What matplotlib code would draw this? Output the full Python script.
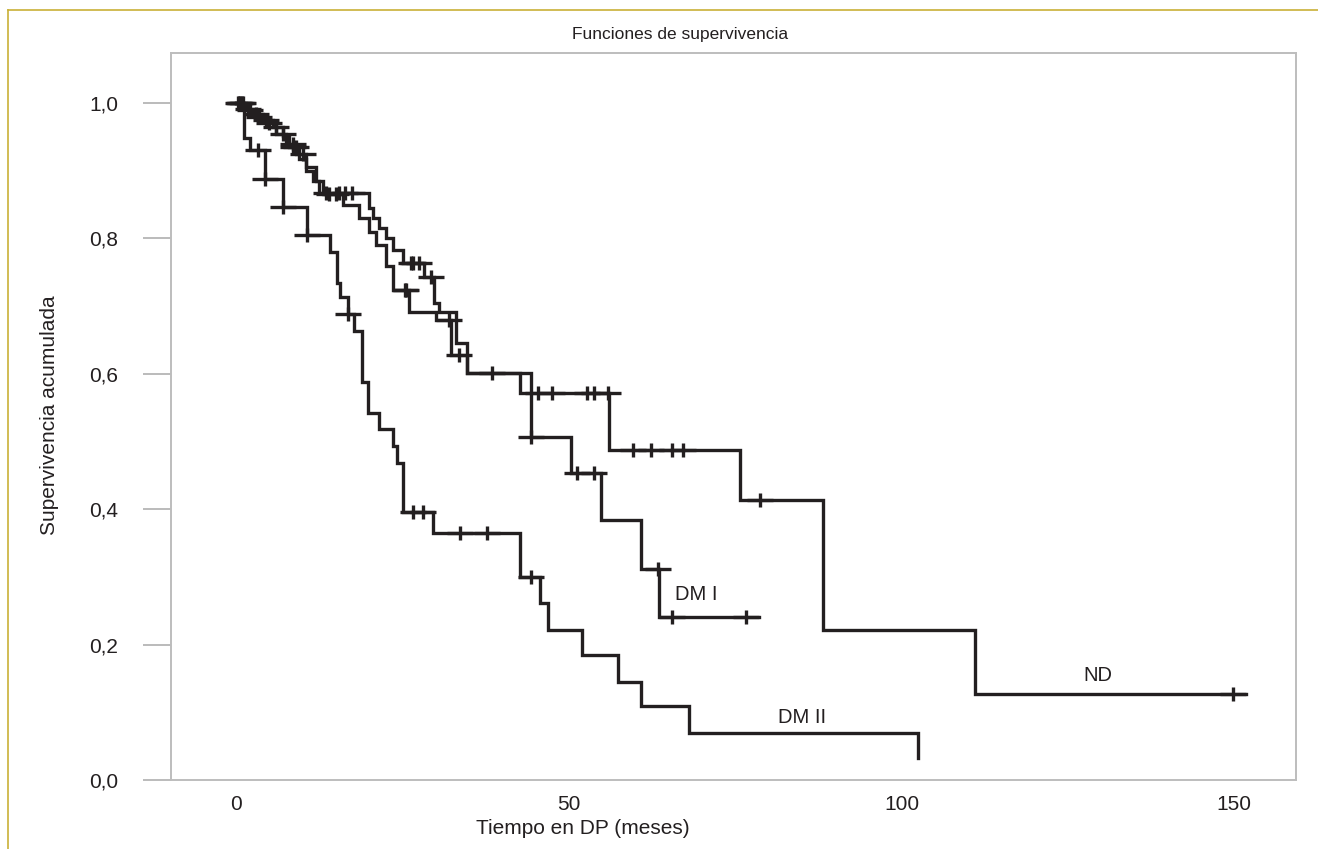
import numpy as np
import matplotlib
matplotlib.use("Agg")
import matplotlib.pyplot as plt
from matplotlib.lines import Line2D
from matplotlib.ticker import FuncFormatter

# Kaplan-Meier step data: event times (months) and survival after each event
nd_times = [1.0, 2.5, 4.0, 5.5, 7.0, 8.0, 9.5, 10.5, 11.5, 12.5, 20.0, 20.5, 21.5,
            22.5, 23.5, 25.0, 28.3, 29.8, 30.5, 33.0, 34.7, 42.7, 56.0, 75.7, 88.2, 111.0]
nd_surv = [0.992, 0.984, 0.975, 0.965, 0.952, 0.935, 0.918, 0.900, 0.885, 0.867, 0.845,
           0.830, 0.815, 0.800, 0.783, 0.764, 0.743, 0.704, 0.691, 0.645, 0.602, 0.571,
           0.487, 0.413, 0.222, 0.127]
nd_censored = [0.3, 0.8, 1.8, 3.0, 4.5, 6.0, 8.5, 9.0, 13.5, 15.4, 16.4, 17.4, 26.2, 26.6,
               27.5, 29.3, 38.5, 45.4, 47.5, 52.8, 53.8, 55.9, 59.7, 62.4, 65.5, 67.2,
               78.8, 149.9]
nd_end = 151.8

dm1_times = [1.5, 3.0, 4.5, 6.0, 7.5, 9.0, 10.5, 12.0, 13.0, 16.0, 18.5, 20.0, 21.0,
             22.5, 23.5, 26.0, 30.0, 32.3, 34.7, 44.3, 50.3, 54.8, 60.9, 63.6]
dm1_surv = [0.990, 0.980, 0.970, 0.955, 0.940, 0.925, 0.905, 0.885, 0.865, 0.850, 0.830,
            0.810, 0.790, 0.760, 0.724, 0.691, 0.679, 0.628, 0.602, 0.506, 0.453, 0.384,
            0.311, 0.241]
dm1_censored = [0.5, 1.0, 2.0, 3.5, 5.0, 7.0, 8.5, 10.0, 14.0, 15.0, 25.3, 25.5, 32.0,
                33.5, 44.3, 51.3, 53.8, 63.4, 65.5, 76.7]
dm1_end = 78.6

dm2_times = [1.1, 2.1, 4.3, 7.1, 10.7, 14.1, 15.2, 15.6, 16.8, 17.7, 18.9, 19.8, 21.5,
             23.6, 24.2, 25.1, 29.6, 42.7, 45.7, 46.9, 52.0, 57.4, 60.9, 68.1, 102.5]
dm2_surv = [0.948, 0.930, 0.888, 0.846, 0.805, 0.780, 0.734, 0.713, 0.688, 0.663, 0.588,
            0.542, 0.518, 0.493, 0.468, 0.396, 0.365, 0.300, 0.261, 0.221, 0.185, 0.145,
            0.109, 0.069, 0.032]
dm2_censored = [0.4, 3.3, 4.3, 7.1, 10.7, 16.8, 26.6, 28.1, 33.7, 37.7, 44.3]
dm2_end = 102.5

curve_labels = ["ND", "DM I", "DM II"]
label_pos = [(129.5, 0.155), (69.2, 0.274), (85.0, 0.092)]

y_ticks = [0.0, 0.2, 0.4, 0.6, 0.8, 1.0]
x_ticks = [0, 50, 100, 150]

plt.rcParams["font.family"] = ["Liberation Sans", "DejaVu Sans"]

fig = plt.figure(figsize=(13.18, 8.49), dpi=100)
ax = fig.add_axes([171 / 1318, 1 - 780 / 849, (1296 - 171) / 1318, (780 - 53) / 849])

ink = "#231f20"
lw = 2.4


def draw_curve(times, surv, censored, end):
    t = np.r_[0.0, times, end]
    s = np.r_[1.0, surv, surv[-1]]
    ax.step(t, s, where="post", color=ink, lw=lw, solid_joinstyle="miter", zorder=3)
    idx = np.searchsorted(np.asarray(times), np.asarray(censored), side="right")
    s_c = np.r_[1.0, surv][idx]
    ax.plot(censored, s_c, ls="none", marker="_", ms=19, mew=lw, color=ink, zorder=4)
    ax.plot(censored, s_c, ls="none", marker="|", ms=10, mew=lw, color=ink, zorder=4)


draw_curve(nd_times, nd_surv, nd_censored, nd_end)
draw_curve(dm1_times, dm1_surv, dm1_censored, dm1_end)
draw_curve(dm2_times, dm2_surv, dm2_censored, dm2_end)

for name, (lx, ly) in zip(curve_labels, label_pos):
    ax.text(lx, ly, name, fontsize=14.5, color=ink, ha="center", va="center")

ax.set_xlim(-9.8, 159.3)
ax.set_ylim(0.0, 1.074)
ax.set_xticks(x_ticks)
ax.set_yticks(y_ticks)
ax.yaxis.set_major_formatter(FuncFormatter(lambda v, p: f"{v:.1f}".replace(".", ",")))
ax.tick_params(axis="y", length=20, width=1.3, color="#b5b5b5", pad=18,
               labelsize=15, labelcolor=ink)
ax.tick_params(axis="x", length=0, pad=11, labelsize=15, labelcolor=ink)
for sp in ax.spines.values():
    sp.set_color("#bdbdbd")
    sp.set_linewidth(1.4)

fig.text(680 / 1318, 1 - 35 / 849, "Funciones de supervivencia", ha="center",
         va="center", fontsize=12.5, color=ink)
fig.text(583 / 1318, 1 - 829 / 849, "Tiempo en DP (meses)", ha="center", va="center",
         fontsize=15, color=ink)
fig.text(50 / 1318, 1 - 415 / 849, "Supervivencia acumulada", ha="center", va="center",
         rotation=90, fontsize=15, color=ink)

# outer frame (top and left edges)
gold = "#c9b037"
fig.add_artist(Line2D([8 / 1318, 1.0], [1 - 9.5 / 849, 1 - 9.5 / 849],
                      transform=fig.transFigure, color=gold, lw=1.2))
fig.add_artist(Line2D([8 / 1318, 8 / 1318], [0.0, 1 - 9.5 / 849],
                      transform=fig.transFigure, color=gold, lw=1.2))

fig.savefig("out.png", dpi=100)
